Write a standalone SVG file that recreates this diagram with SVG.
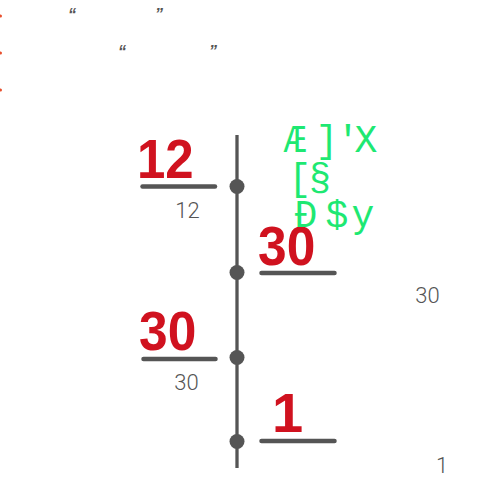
<svg xmlns="http://www.w3.org/2000/svg" width="481" height="480" viewBox="0 0 481 480">
<style>
.axis{stroke:#555;stroke-width:3.3;fill:none}
.bar{stroke:#555;stroke-width:4.5;stroke-linecap:round;fill:none}
.dot{fill:#555}
.big{font-family:"Liberation Sans",Arial,sans-serif;font-weight:bold;font-size:56px;fill:#d0121f}
.small{font-family:Roboto,"Liberation Sans",sans-serif;font-weight:300;font-size:22px;fill:#555;text-anchor:middle}
.green{font-family:"Liberation Mono",monospace;font-size:38px;fill:#1ee872;text-anchor:middle}
.quote{font-family:"Liberation Sans",sans-serif;font-style:italic;font-weight:bold;font-size:16px;fill:#555}
.bullet{fill:#e8502e}
</style>
<rect width="481" height="480" fill="#fff"/>
<g id="header">
<circle class="bullet" cx="0.5" cy="16" r="1.5"/>
<circle class="bullet" cx="0.5" cy="53" r="1.5"/>
<circle class="bullet" cx="0.5" cy="90" r="1.5"/>
<text class="quote" x="68" y="20">“</text>
<text class="quote" x="155" y="20">”</text>
<text class="quote" x="118" y="57">“</text>
<text class="quote" x="209" y="57">”</text>
</g>
<g id="connectors">
<line class="axis" x1="237" y1="135" x2="237" y2="468"/>
</g>
<g id="node-12">
<circle class="dot" cx="237" cy="186.5" r="7.5"/>
<line class="bar" x1="142.5" y1="186.5" x2="215" y2="186.5"/>
<text class="big" transform="translate(137,178) scale(0.91,1)">12</text>
<text class="small" x="187.5" y="218">12</text>
</g>
<g id="node-30a">
<circle class="dot" cx="237" cy="272.5" r="7.5"/>
<line class="bar" x1="261.5" y1="273" x2="334.5" y2="273"/>
<text class="big" transform="translate(258,265) scale(0.92,1)">30</text>
<text class="small" x="427.5" y="303">30</text>
</g>
<g id="node-30b">
<circle class="dot" cx="237" cy="357.5" r="7.5"/>
<line class="bar" x1="143.5" y1="359" x2="215.5" y2="359"/>
<text class="big" transform="translate(139,350) scale(0.92,1)">30</text>
<text class="small" x="186.5" y="390">30</text>
</g>
<g id="node-1">
<circle class="dot" cx="237" cy="441.5" r="7.5"/>
<line class="bar" x1="261.5" y1="441" x2="334.5" y2="441"/>
<text class="big" x="272" y="432">1</text>
<text class="small" x="442" y="473">1</text>
</g>
<g id="green-text">
<text class="green" x="295 327 348 366" y="152">Æ]'X</text>
<text class="green" x="300 320" y="190">[§</text>
<text class="green" x="306 337 363" y="227">Ð$y</text>
</g>
</svg>
